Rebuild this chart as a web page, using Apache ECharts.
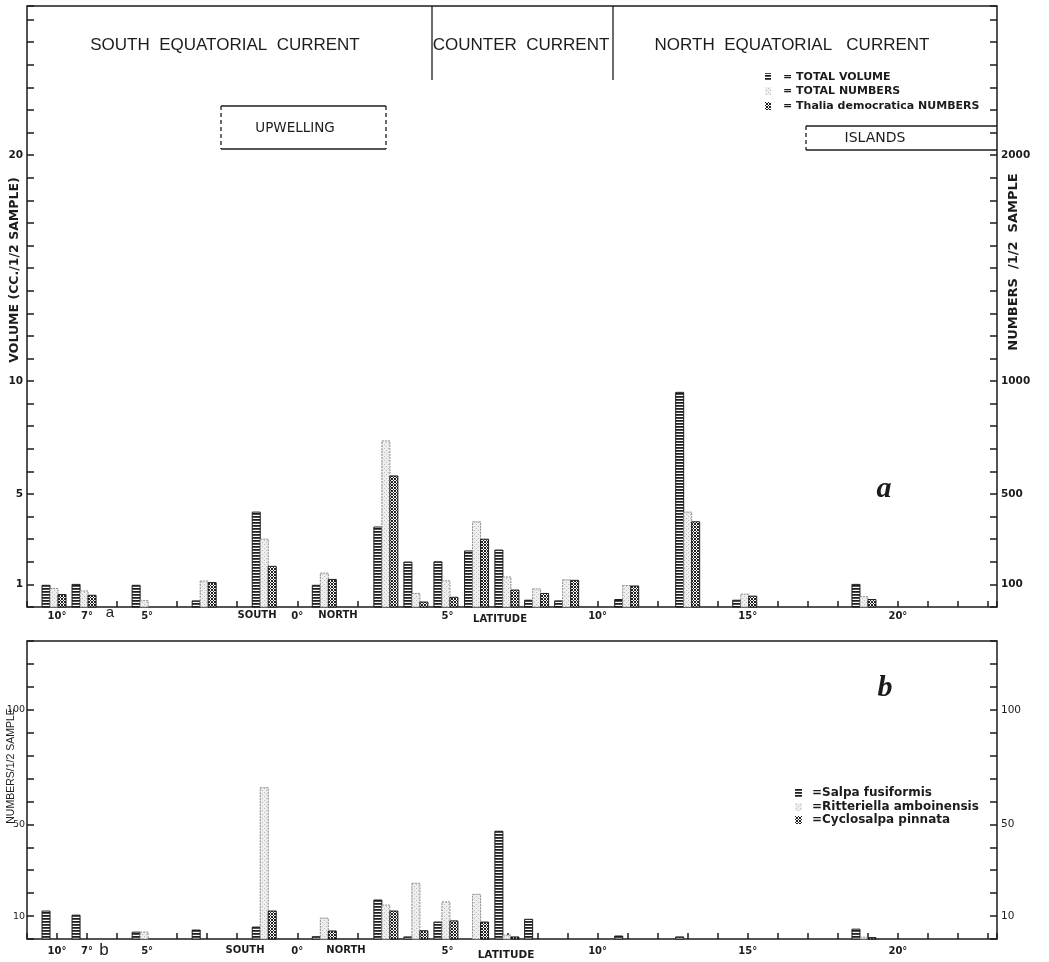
<!DOCTYPE html>
<html><head><meta charset="utf-8">
<script src="https://cdn.jsdelivr.net/npm/echarts/dist/echarts.min.js"></script>
<style>html,body{margin:0;padding:0;background:#fff}#chart{width:1049px;height:962px}</style>
</head><body><div id="chart"></div>
<script>
// ---- data (latitude of station: negative = south) ----
const latitudes      = [-8.1, -7.1, -5.1, -3.1, -1.1, 0.9, 2.95, 3.95, 4.95, 5.97, 6.98, 7.97, 8.97, 10.97, 13.0, 14.9, 18.87];
// panel a
const totalVolume    = [0.96, 1.0, 0.96, 0.27, 4.2, 0.96, 3.54, 1.99, 2.0, 2.48, 2.52, 0.3, 0.27, 0.33, 9.5, 0.3, 1.0];
const totalNumbers   = [82, 71, 28, 115, 300, 150, 735, 60, 116, 377, 133, 80, 120, 95, 420, 57, 46];
const thaliaNumbers  = [55, 52, 0, 108, 180, 122, 580, 22, 43, 300, 75, 60, 118, 93, 377, 48, 33];
// panel b
const salpaFusiformis = [12.2, 10.4, 3.0, 3.9, 5.2, 1.0, 17, 0.9, 7.4, 0, 47, 8.6, 0, 1.3, 0.9, 0, 4.3];
const ritteriella     = [0, 0, 3.0, 0, 66, 9.1, 14.8, 24.3, 16.2, 19.5, 1.7, 0, 0, 0, 0, 0, 0.8];
const cyclosalpa      = [0, 0, 0, 0, 12.2, 3.5, 12.2, 3.6, 7.9, 7.4, 0.9, 0, 0, 0, 0, 0, 0.6];
// tick labels
const latTickLabels   = {'-8':'10°', '-7':'7°', '-5':'5°', '0':'0°', '5':'5°', '10':'10°', '15':'15°', '20':'20°'};
const volTickLabels   = [1, 5, 10, 20];
const numTickLabels   = [100, 500, 1000, 2000];
const bTickLabels     = [10, 50, 100];

// ---- patterns ----
function makePattern(w, h, draw) {
  const c = document.createElement('canvas'); c.width = w; c.height = h;
  const g = c.getContext('2d'); draw(g);
  return { image: c, repeat: 'repeat' };
}
const INK = '#1c1c1c';
const stripe = makePattern(4, 3, g => {
  g.fillStyle = '#fff'; g.fillRect(0, 0, 4, 3);
  g.fillStyle = '#1e1e1e'; g.fillRect(0, 0, 4, 1);
  g.fillStyle = '#505050'; g.fillRect(0, 1, 4, 1);
});
const stipple = makePattern(4, 4, g => {
  g.fillStyle = '#eeeeee'; g.fillRect(0, 0, 4, 4);
  g.fillStyle = '#bdbdbd'; g.fillRect(0, 0, 1, 1); g.fillRect(2, 2, 1, 1);
});
const hatch = makePattern(6, 6, g => {
  g.fillStyle = '#fff'; g.fillRect(0, 0, 6, 6);
  g.fillStyle = '#222';
  for (let x = 0; x < 6; x++) for (let y = 0; y < 6; y++)
    if ((x + y) % 3 === 0 || (x - y + 6) % 3 === 0) g.fillRect(x, y, 1, 1);
});

const BAR_W = 8;
function barSeries(name, arr, gi, yIdx, slot, fill, stroke, dash) {
  return {
    type: 'custom', name, xAxisIndex: gi, yAxisIndex: yIdx, silent: true, animation: false,
    data: latitudes.map((l, i) => [l, arr[i]]),
    renderItem: (params, api) => {
      const v = api.value(1);
      if (!(v > 0)) return null;
      const lat = api.value(0);
      const b = api.coord([lat, 0]);
      const t = api.coord([lat, v]);
      return {
        type: 'rect',
        shape: { x: b[0] + (slot - 1) * BAR_W - BAR_W / 2, y: t[1], width: BAR_W, height: b[1] - t[1] },
        style: { fill: fill, stroke: stroke, lineWidth: 1, lineDash: dash || null }
      };
    }
  };
}

const GL = 27, GR = 1049 - 997;
const axisLineStyle = { color: INK, width: 1.5 };
const digitFont = { fontFamily: 'DejaVu Sans', fontWeight: 'bold', fontSize: 10.5, color: INK };

function latAxis(gi) {
  return {
    type: 'value', gridIndex: gi, min: -9, max: 23.3, interval: 1,
    axisLine: { show: false, onZero: false }, splitLine: { show: false },
    axisTick: { show: true, inside: true, length: 6, lineStyle: axisLineStyle },
    axisLabel: Object.assign({ margin: gi === 0 ? 4 : 7, formatter: v => latTickLabels[String(Math.round(v))] && Math.abs(v - Math.round(v)) < 1e-6 ? latTickLabels[String(Math.round(v))] : '' }, digitFont, { fontSize: 10 })
  };
}
function yAx(gi, pos, max, interval, labels, font) {
  return {
    type: 'value', gridIndex: gi, position: pos, min: 0, max: max, interval: interval,
    axisLine: { show: false, onZero: false }, splitLine: { show: false },
    axisTick: { show: true, inside: true, length: 7, lineStyle: axisLineStyle },
    axisLabel: Object.assign({ margin: 4, formatter: v => labels.indexOf(Math.round(v)) >= 0 && Math.abs(v - Math.round(v)) < 1e-6 ? String(Math.round(v)) : '' }, digitFont, font || {})
  };
}

function txt(x, y, text, o) {
  o = o || {};
  return {
    type: 'text', x: x, y: y, rotation: o.rot || 0, silent: true, z: 50,
    style: {
      text: text, fill: o.color || INK, fontSize: o.size || 12, fontFamily: o.family || 'Liberation Sans',
      fontWeight: o.weight || 'normal', fontStyle: o.style || 'normal',
      align: o.align || 'center', verticalAlign: 'middle'
    }
  };
}
function line(x1, y1, x2, y2, dash, w) {
  return { type: 'line', silent: true, z: 50, shape: { x1, y1, x2, y2 }, style: { stroke: INK, lineWidth: w || 1.3, lineDash: dash || null } };
}
function swatch(x, y, w, h, fill) {
  return { type: 'rect', silent: true, z: 50, shape: { x, y, width: w, height: h }, style: { fill: fill } };
}

const titleFont = { size: 17, family: 'Liberation Sans' };
const legA = { size: 11, weight: 'bold', align: 'left', family: 'DejaVu Sans' };
const legB = { size: 12, weight: 'bold', align: 'left', family: 'DejaVu Sans' };
const graphics = [
  // current headings
  txt(225, 45, 'SOUTH  EQUATORIAL  CURRENT', titleFont),
  txt(521, 45, 'COUNTER  CURRENT', titleFont),
  txt(792, 45, 'NORTH  EQUATORIAL   CURRENT', titleFont),
  line(432, 6, 432, 80), line(613, 6, 613, 80),
  // upwelling box
  line(221, 106, 386, 106), line(221, 149, 386, 149),
  line(221, 106, 221, 149, [4, 3]), line(386, 106, 386, 149, [4, 3]),
  txt(295, 128, 'UPWELLING', { size: 13.5, family: 'DejaVu Sans' }),
  // islands box
  line(806, 126, 997, 126), line(806, 150, 997, 150), line(806, 126, 806, 150, [4, 3]),
  txt(875, 138, 'ISLANDS', { size: 14, family: 'DejaVu Sans' }),
  // legend a
  swatch(765, 73, 6, 8, stripe), swatch(765, 87, 6, 8, stipple), swatch(765, 102, 6, 8, hatch),
  txt(783, 77, '= TOTAL VOLUME', legA),
  txt(783, 91, '= TOTAL NUMBERS', legA),
  txt(783, 106, '= Thalia democratica NUMBERS', legA),
  // legend b
  swatch(795, 789, 7, 8, stripe), swatch(795, 803, 7, 8, stipple), swatch(795, 816, 7, 8, hatch),
  txt(812, 793, '=Salpa fusiformis', legB),
  txt(812, 807, '=Ritteriella amboinensis', legB),
  txt(812, 820, '=Cyclosalpa pinnata', legB),
  // axis names
  txt(15, 270, 'VOLUME (CC./1/2 SAMPLE)', { size: 12.5, weight: 'bold', rot: Math.PI / 2, family: 'DejaVu Sans' }),
  txt(1014, 262, 'NUMBERS  /1/2  SAMPLE', { size: 13, weight: 'bold', rot: Math.PI / 2, family: 'DejaVu Sans' }),
  txt(11, 766, 'NUMBERS/1/2 SAMPLE', { size: 10.5, rot: Math.PI / 2 }),
  // latitude annotations
  txt(257, 615, 'SOUTH', { size: 10, weight: 'bold', family: 'DejaVu Sans' }),
  txt(338, 615, 'NORTH', { size: 10, weight: 'bold', family: 'DejaVu Sans' }),
  txt(500, 619, 'LATITUDE', { size: 10, weight: 'bold', family: 'DejaVu Sans' }),
  txt(245, 950, 'SOUTH', { size: 10, weight: 'bold', family: 'DejaVu Sans' }),
  txt(346, 950, 'NORTH', { size: 10, weight: 'bold', family: 'DejaVu Sans' }),
  txt(506, 955, 'LATITUDE', { size: 10.5, weight: 'bold', family: 'DejaVu Sans' }),
  // panel letters
  txt(884, 489, 'a', { size: 30, weight: 'bold', style: 'italic', family: 'Liberation Serif' }),
  txt(885, 688, 'b', { size: 30, weight: 'bold', style: 'italic', family: 'Liberation Serif' }),
  txt(110, 613, 'a', { size: 15 }),
  txt(104, 950, 'b', { size: 17 })
];

const chart = echarts.init(document.getElementById('chart'), null, { renderer: 'canvas' });
chart.setOption({
  backgroundColor: '#fff',
  animation: false,
  grid: [
    { left: GL, right: GR, top: 6, height: 601, show: true, borderColor: INK, borderWidth: 1.5, backgroundColor: 'transparent' },
    { left: GL, right: GR, top: 641, height: 298, show: true, borderColor: INK, borderWidth: 1.5, backgroundColor: 'transparent' }
  ],
  xAxis: [latAxis(0), latAxis(1)],
  yAxis: [
    yAx(0, 'left', 26.6, 1, volTickLabels),
    yAx(0, 'right', 2660, 100, numTickLabels),
    yAx(1, 'left', 130, 10, bTickLabels, { fontSize: 9.5, fontWeight: 'normal', margin: 2 }),
    yAx(1, 'right', 130, 10, bTickLabels, { fontWeight: 'normal' })
  ],
  series: [
    barSeries('TOTAL VOLUME', totalVolume, 0, 0, 0, stripe, INK),
    barSeries('TOTAL NUMBERS', totalNumbers, 0, 1, 1, stipple, '#8a8a8a', [2, 1]),
    barSeries('Thalia democratica NUMBERS', thaliaNumbers, 0, 1, 2, hatch, INK),
    barSeries('Salpa fusiformis', salpaFusiformis, 1, 2, 0, stripe, INK),
    barSeries('Ritteriella amboinensis', ritteriella, 1, 2, 1, stipple, '#8a8a8a', [2, 1]),
    barSeries('Cyclosalpa pinnata', cyclosalpa, 1, 2, 2, hatch, INK)
  ],
  graphic: graphics
});
</script></body></html>
